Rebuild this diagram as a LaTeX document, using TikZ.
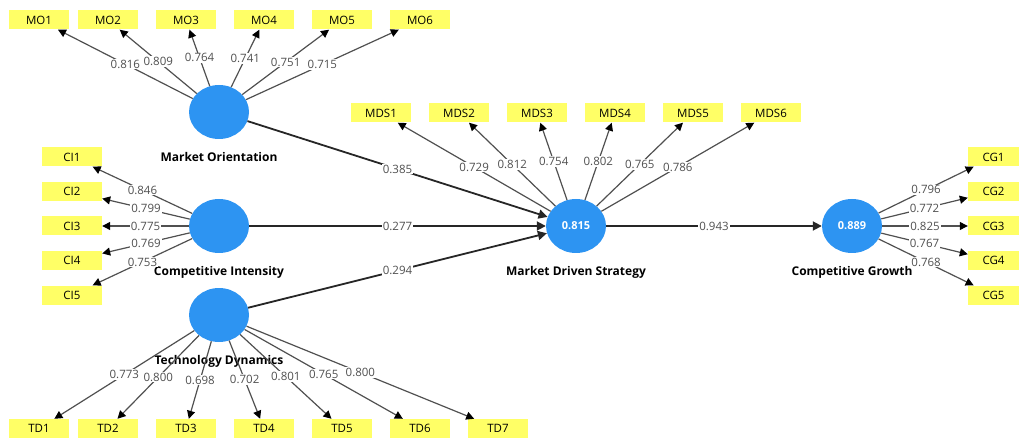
\documentclass[tikz,border=0pt]{standalone}
\usepackage{fontspec}
\setmainfont{Open Sans}
\usetikzlibrary{arrows.meta,positioning,shapes.geometric}

\definecolor{lvblue}{RGB}{45,148,242}
\definecolor{mvyellow}{RGB}{255,255,102}
\definecolor{loadgray}{RGB}{80,80,80}

\tikzset{
	lv/.style={ellipse,fill=lvblue,minimum width=60pt,minimum height=54pt,inner sep=0pt,text=white,font=\bfseries\fontsize{11}{13}\selectfont},
	mv/.style={rectangle,fill=mvyellow,minimum width=60pt,minimum height=19pt,inner sep=0pt,font=\fontsize{11.5}{13}\selectfont},
	lvname/.style={inner sep=0pt,font=\bfseries\fontsize{12}{14}\selectfont},
	loading/.style={draw=loadgray,line width=1.2pt,-{Triangle[length=8pt,width=8pt,color=black,fill=black]}},
	structural/.style={draw=black!85,line width=1.8pt,-{Triangle[length=9pt,width=9pt]}},
	coef/.style={fill=white,inner sep=1pt,text=loadgray,font=\fontsize{11.5}{13}\selectfont},
}

\begin{document}
\begin{tikzpicture}[x=1pt,y=-1pt]
		\useasboundingbox (0,0) rectangle (1019,438);
		% constructs
		\node[lv] (MO) at (219,112) {};
		\node[lv] (CI) at (219,226) {};
		\node[lv] (TD) at (219,315) {};
		\node[lv] (MDS) at (576,226) {0.815};
		\node[lv] (CG) at (852,226) {0.889};
		\node[lvname,below=13pt of MO] {Market Orientation};
		\node[lvname,below=13pt of CI] {Competitive Intensity};
		\node[lvname,below=13pt of TD] {Technology Dynamics};
		\node[lvname,below=13pt of MDS] {Market Driven Strategy};
		\node[lvname,below=13pt of CG] {Competitive Growth};
		% indicators
		\foreach \i/\x/\v in {1/39/0.816,2/108/0.809,3/186/0.764,4/264/0.741,5/342/0.751,6/420/0.715}{
			\node[mv] (MO\i) at (\x,20) {MO\i};
			\draw[loading] (MO) -- (MO\i) node[coef,midway] {\v};
		}
		\foreach \i/\y/\v in {1/157/0.846,2/191.5/0.799,3/226/0.775,4/260.5/0.769,5/295/0.753}{
			\node[mv] (CI\i) at (72,\y) {CI\i};
			\draw[loading] (CI) -- (CI\i) node[coef,midway] {\v};
		}
		\foreach \i/\x/\v in {1/39/0.773,2/108/0.800,3/186/0.698,4/264/0.702,5/342/0.801,6/420/0.765,7/498/0.800}{
			\node[mv] (TD\i) at (\x,428.5) {TD\i};
			\draw[loading] (TD) -- (TD\i) node[coef,midway] {\v};
		}
		\foreach \i/\x/\v in {1/381/0.729,2/459/0.812,3/537/0.754,4/615/0.802,5/693/0.765,6/771/0.786}{
			\node[mv] (MDS\i) at (\x,113) {MDS\i};
			\draw[loading] (MDS) -- (MDS\i) node[coef,midway] {\v};
		}
		\foreach \i/\y/\v in {1/157/0.796,2/191.5/0.772,3/226/0.825,4/260.5/0.767,5/295/0.768}{
			\node[mv,minimum width=51pt] (CG\i) at (993.5,\y) {CG\i};
			\draw[loading] (CG) -- (CG\i) node[coef,midway] {\v};
		}
		% inner model
		\draw[structural] (MO) -- (MDS) node[coef,midway] {0.385};
		\draw[structural] (CI) -- (MDS) node[coef,midway] {0.277};
		\draw[structural] (TD) -- (MDS) node[coef,midway] {0.294};
		\draw[structural] (MDS) -- (CG) node[coef,midway] {0.943};
	\end{tikzpicture}
\end{document}
